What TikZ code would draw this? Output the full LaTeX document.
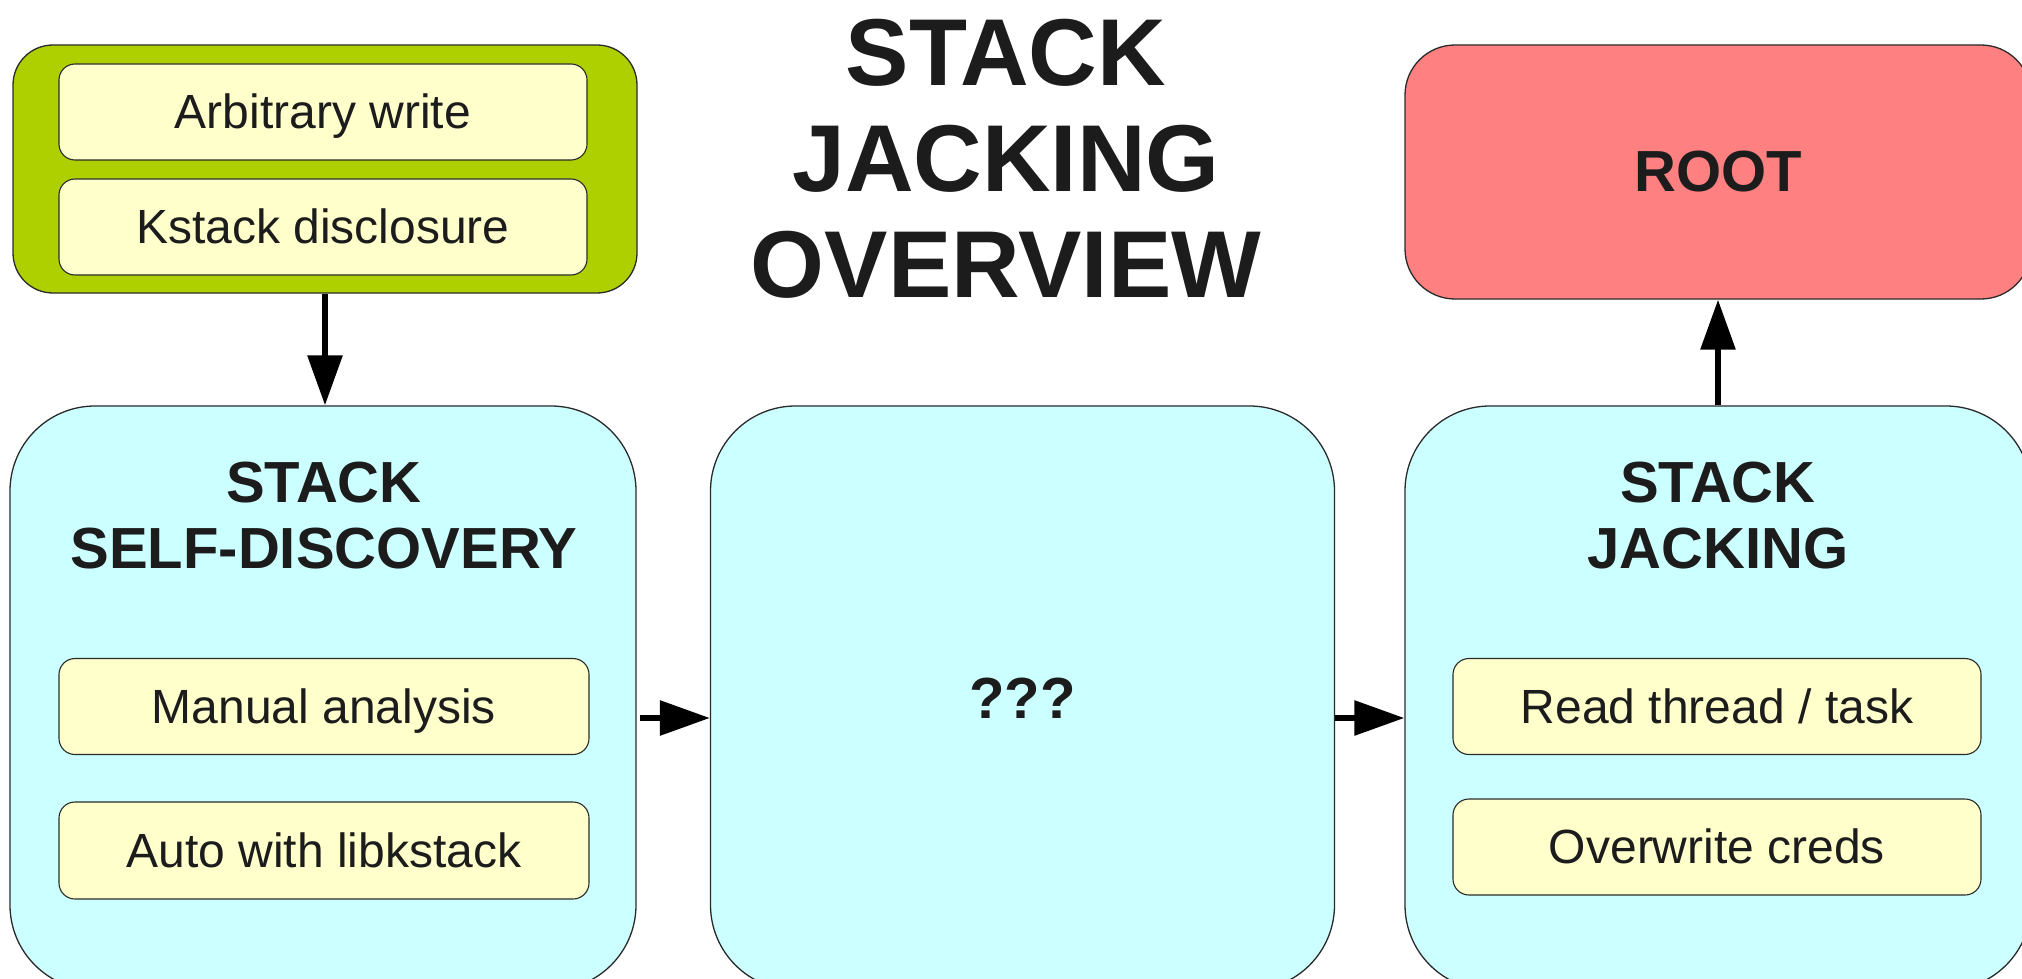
\documentclass[tikz,border=0pt]{standalone}
\usepackage{fontspec}
\setmainfont{Liberation Sans}
\usetikzlibrary{arrows.meta}
\definecolor{inkgray}{HTML}{1C1C1C}
\definecolor{leafgreen}{HTML}{AFD000}
\definecolor{paleyellow}{HTML}{FFFFCC}
\definecolor{palecyan}{HTML}{CCFFFF}
\definecolor{rootred}{HTML}{FF8080}
\definecolor{edgegray}{HTML}{2A2A2A}

\begin{document}
\begin{tikzpicture}[x=1pt,y=-1pt,
  every node/.style={text=inkgray, inner sep=0pt},
  panel/.style={draw=edgegray, line width=1.3pt, rounded corners=85pt,
    fill=palecyan, minimum height=584pt},
  itembox/.style={draw=edgegray, line width=1.1pt, rounded corners=16pt,
    fill=paleyellow, minimum height=96pt, minimum width=528pt,
    font=\fontsize{48}{58}\selectfont, text height=43.4pt, text depth=10.2pt},
  heading/.style={font=\bfseries\fontsize{58}{66}\selectfont, align=center},
  flow/.style={draw=black, line width=6pt, -{Triangle[length=50pt,width=34pt]}},
]
\useasboundingbox (0,0) rectangle (2022,979);
\clip (0,0) rectangle (2022,979);

% preconditions
\node[draw=edgegray, line width=1.3pt, fill=leafgreen, rounded corners=40pt,
  minimum width=624pt, minimum height=248pt] (prereq) at (325,169) {};
\node[itembox] (write) at (323,112) {Arbitrary write};
\node[itembox] (leak) at (323,227) {Kstack disclosure};

% title
\node[font=\bfseries\fontsize{95}{106}\selectfont, align=center] (title)
  at (1006,158.5) {STACK\\JACKING\\OVERVIEW};

% goal
\node[draw=edgegray, line width=1.3pt, fill=rootred, rounded corners=50pt,
  minimum width=626pt, minimum height=254pt,
  font=\bfseries\fontsize{58}{66}\selectfont] (root) at (1718,172) {ROOT};

% main stages
\node[panel, minimum width=626pt] (discover) at (323,698) {};
\node[panel, minimum width=624pt, font=\bfseries\fontsize{58}{66}\selectfont]
  (unknown) at (1022.5,698) {???};
\node[panel, minimum width=626pt] (jack) at (1718,698) {};

\node[heading] (discoverhead) at (324,516) {STACK\\SELF-DISCOVERY};
\node[heading] (jackhead) at (1718,516) {STACK\\JACKING};

\node[itembox, minimum width=530pt] (manual) at (324,706.5) {Manual analysis};
\node[itembox, minimum width=530pt, minimum height=97pt] (auto) at (324,850.5) {Auto with libkstack};
\node[itembox] (readtask) at (1717,706.5) {Read thread / task};
\node[itembox] (creds) at (1717,847) {Overwrite creds};

% connectors
\draw[flow] (prereq.south) -- (prereq.south |- discover.north);
\draw[flow] (root.south |- jack.north) -- (root.south);
\draw[flow, shorten <=3pt] ([yshift=-20pt]discover.east) -- ([yshift=-20pt]unknown.west);
\draw[flow] ([yshift=-20pt]unknown.east) -- ([yshift=-20pt]jack.west);
\end{tikzpicture}
\end{document}
